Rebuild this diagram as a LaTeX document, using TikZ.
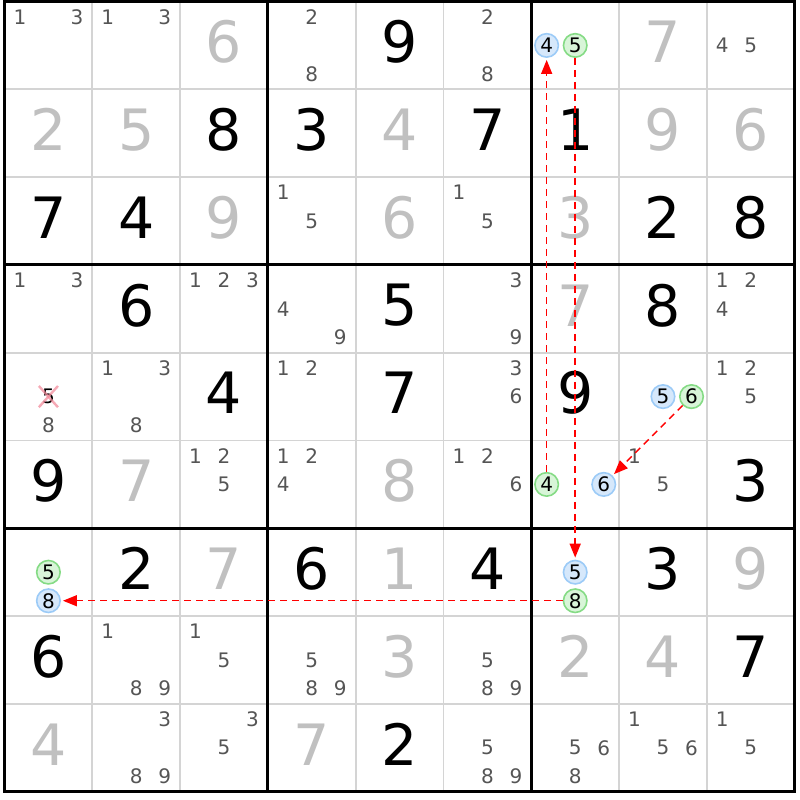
\documentclass[tikz,border=0pt]{standalone}
\usepackage{fontspec}
\setmainfont{DejaVu Sans}
\usepackage{tikz}
\usetikzlibrary{arrows.meta}
\definecolor{solvedgray}{HTML}{C0C0C0}
\definecolor{candgray}{HTML}{555555}
\definecolor{thingray}{HTML}{D4D4D4}
\definecolor{linkred}{HTML}{FF0000}
\definecolor{onfill}{HTML}{D6E8FB}
\definecolor{ondraw}{HTML}{9CCBF7}
\definecolor{offfill}{HTML}{D8F5D8}
\definecolor{offdraw}{HTML}{85DB85}
\definecolor{crosspink}{HTML}{F28C9C}

\begin{document}
\begin{tikzpicture}[
    x=87.8pt, y=-87.8pt,
    given/.style={
        font=\fontsize{57}{57}\selectfont,
        inner sep=0pt,
        yshift=3.5pt
    },
    solved/.style={
        given,
        text=solvedgray
    },
    cand/.style={
        font=\fontsize{20}{20}\selectfont,
        inner sep=0pt,
        text=candgray
    },
    oncand/.style={
        cand,
        text=black,
        circle,
        draw=ondraw,
        fill=onfill,
        line width=1.6pt,
        minimum size=23.5pt
    },
    offcand/.style={
        oncand,
        draw=offdraw,
        fill=offfill
    },
    link/.style={
        -{Triangle[length=14pt, width=11pt]},
        dash pattern=on 7pt off 5pt,
        line width=1.5pt,
        color=linkred,
        shorten >=2pt
    }
]
\useasboundingbox (-0.0513, -0.0171) rectangle (9.0604, 9.0945);

% Grid lines
\foreach \i in {1,2,4,5,7,8} {
    \draw[thingray, line width=1.8pt] (\i, 0) -- (\i, 9);
    \draw[thingray, line width=1.8pt] (0, \i) -- (9, \i);
}
\foreach \i in {0,3,6,9} {
    \draw[black, line width=3pt] (\i, -0.017) -- (\i, 9.017);
    \draw[black, line width=3pt] (-0.017, \i) -- (9.017, \i);
}

% Given digits
\foreach \r/\c/\d in {1/5/9, 2/3/8, 2/4/3, 2/6/7, 2/7/1, 3/1/7, 3/2/4, 3/8/2, 3/9/8,
    4/2/6, 4/5/5, 4/8/8, 5/3/4, 5/5/7, 5/7/9, 6/1/9, 6/9/3,
    7/2/2, 7/4/6, 7/6/4, 7/8/3, 8/1/6, 8/9/7, 9/5/2}
    \node[given] (g\r\c) at (\c-0.5, \r-0.5) {\d};

% Solved digits
\foreach \r/\c/\d in {1/3/6, 1/8/7, 2/1/2, 2/2/5, 2/5/4, 2/8/9, 2/9/6, 3/3/9, 3/5/6, 3/7/3,
    4/7/7, 6/2/7, 6/5/8, 7/3/7, 7/5/1, 7/9/9, 8/5/3, 8/7/2, 8/8/4, 9/1/4, 9/4/7}
    \node[solved] (s\r\c) at (\c-0.5, \r-0.5) {\d};

% Candidates
\foreach \r/\c/\k in {1/1/1, 1/1/3, 1/2/1, 1/2/3, 1/4/2, 1/4/8, 1/6/2, 1/6/8, 1/9/4, 1/9/5,
    3/4/1, 3/4/5, 3/6/1, 3/6/5,
    4/1/1, 4/1/3, 4/3/1, 4/3/2, 4/3/3, 4/4/4, 4/4/9, 4/6/3, 4/6/9, 4/9/1, 4/9/2, 4/9/4,
    5/1/8, 5/2/1, 5/2/3, 5/2/8, 5/4/1, 5/4/2, 5/6/3, 5/6/6, 5/9/1, 5/9/2, 5/9/5,
    6/3/1, 6/3/2, 6/3/5, 6/4/1, 6/4/2, 6/4/4, 6/6/1, 6/6/2, 6/6/6, 6/8/1, 6/8/5,
    8/2/1, 8/2/8, 8/2/9, 8/3/1, 8/3/5, 8/4/5, 8/4/8, 8/4/9, 8/6/5, 8/6/8, 8/6/9,
    9/2/3, 9/2/8, 9/2/9, 9/3/3, 9/3/5, 9/6/5, 9/6/8, 9/6/9, 9/7/5, 9/7/6, 9/7/8,
    9/8/1, 9/8/5, 9/8/6, 9/9/1, 9/9/5} {
    \pgfmathsetmacro{\px}{\c-0.5+0.325*(mod(\k-1,3)-1)}
    \pgfmathsetmacro{\py}{\r-0.5+0.325*(floor((\k-1)/3)-1)}
    \node[cand] (p\r\c\k) at (\px, \py) {\k};
}

% Eliminated candidate
\node[cand, text=black] (x515) at (0.5, 4.5) {5};
\draw[crosspink, line width=2.4pt, opacity=0.75]
    ([shift={(-3pt,3pt)}]x515.north west) -- ([shift={(3pt,-3pt)}]x515.south east);
\draw[crosspink, line width=2.4pt, opacity=0.75]
    ([shift={(3pt,3pt)}]x515.north east) -- ([shift={(-3pt,-3pt)}]x515.south west);

% Chain candidates
\node[oncand] (r1c7n4) at (6.175, 0.5) {4};
\node[offcand] (r1c7n5) at (6.5, 0.5) {5};
\node[oncand] (r5c8n5) at (7.5, 4.5) {5};
\node[offcand] (r5c8n6) at (7.825, 4.5) {6};
\node[offcand] (r6c7n4) at (6.175, 5.5) {4};
\node[oncand] (r6c7n6) at (6.825, 5.5) {6};
\node[oncand] (r7c7n5) at (6.5, 6.5) {5};
\node[offcand] (r7c7n8) at (6.5, 6.825) {8};
\node[offcand] (r7c1n5) at (0.5, 6.5) {5};
\node[oncand] (r7c1n8) at (0.5, 6.825) {8};

% Links
\draw[link] (r6c7n4) -- (r1c7n4);
\draw[link] (r1c7n5) -- (r7c7n5);
\draw[link] (r5c8n6) -- (r6c7n6);
\draw[link] (r7c7n8) -- (r7c1n8);

\end{tikzpicture}
\end{document}
